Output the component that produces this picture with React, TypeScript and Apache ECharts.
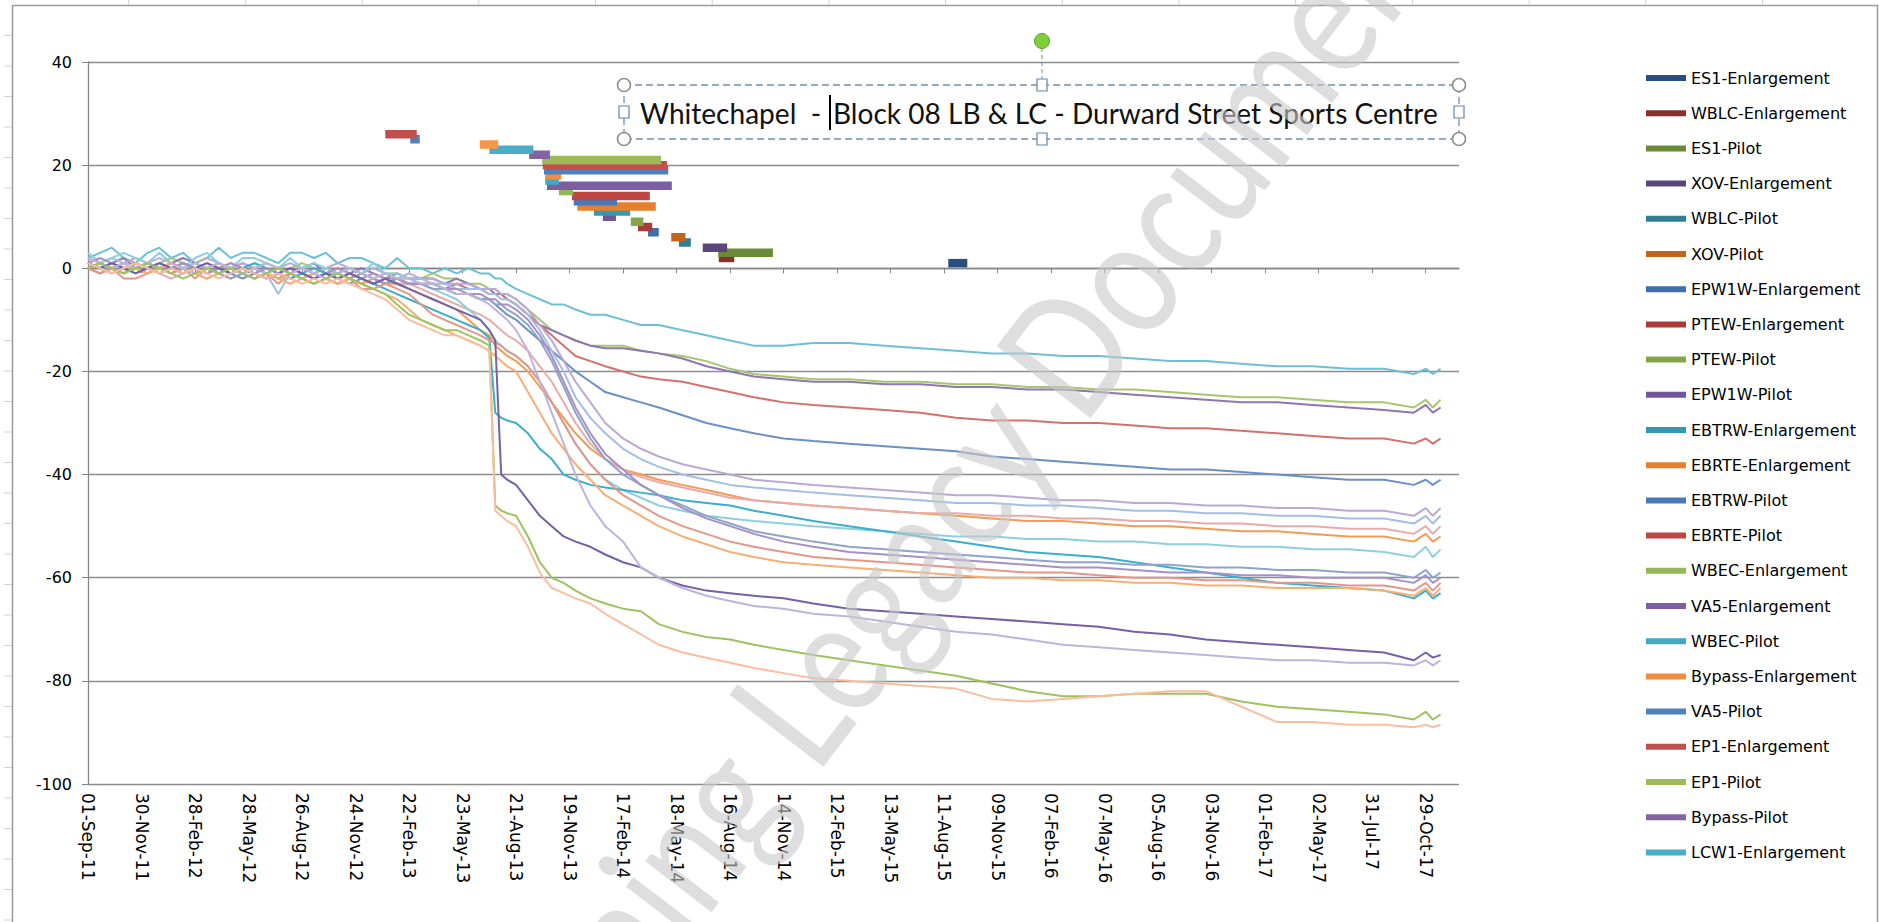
import React, { useEffect, useRef } from 'react';
import * as echarts from 'echarts';

// ---------- axis constants ----------
const AXIS_START = Date.UTC(2011, 8, 1);
const DAY_MS = 86400000;
const X_MAX_DAY = 2306;
const yMin = -100;
const yMax = 40;
const yStep = 20;

const xTickLabels = [
  '01-Sep-11', '30-Nov-11', '28-Feb-12', '28-May-12', '26-Aug-12', '24-Nov-12', '22-Feb-13',
  '23-May-13', '21-Aug-13', '19-Nov-13', '17-Feb-14', '18-May-14', '16-Aug-14', '14-Nov-14',
  '12-Feb-15', '13-May-15', '11-Aug-15', '09-Nov-15', '07-Feb-16', '07-May-16', '05-Aug-16',
  '03-Nov-16', '01-Feb-17', '02-May-17', '31-Jul-17', '29-Oct-17',
];

// ---------- works periods (thick bars) ----------
const barNames = [
  'ES1-Enlargement', 'WBLC-Enlargement', 'ES1-Pilot', 'XOV-Enlargement', 'WBLC-Pilot', 'XOV-Pilot',
  'EPW1W-Enlargement', 'PTEW-Enlargement', 'PTEW-Pilot', 'EPW1W-Pilot', 'EBTRW-Enlargement',
  'EBRTE-Enlargement', 'EBTRW-Pilot', 'EBRTE-Pilot', 'WBEC-Enlargement', 'VA5-Enlargement',
  'WBEC-Pilot', 'Bypass-Enlargement', 'VA5-Pilot', 'EP1-Enlargement', 'EP1-Pilot', 'Bypass-Pilot',
  'LCW1-Enlargement', 'Works-24', 'Works-25', 'Works-26',
];
const barColors = [
  '#264f80', '#8a2f2d', '#6a8a36', '#5a467a', '#2f7f90', '#c2641c',
  '#3e6eab', '#a93b39', '#85a648', '#6f5698', '#3498b0', '#e5802f',
  '#4a79ba', '#bd4643', '#93b656', '#7b5fa2', '#44a7c3', '#f08d3f',
  '#4f81bd', '#c0504d', '#9bbb59', '#8064a2', '#4bacc6', '#f79646',
  '#4f81bd', '#c0504d',
];
const barStarts = [
  '2015-08-18', '2014-07-28', '2014-07-27', '2014-07-01', '2014-05-22', '2014-05-09',
  '2014-03-31', '2014-03-14', '2014-03-02', '2014-01-14', '2013-12-30', '2013-12-02',
  '2013-11-26', '2013-11-23', '2013-11-01', '2013-10-12', '2013-10-09', '2013-10-09',
  '2013-10-07', '2013-10-05', '2013-10-04', '2013-09-12', '2013-07-07', '2013-06-21',
  '2013-02-24', '2013-01-13',
];
const barEnds = [
  '2015-09-19', '2014-08-23', '2014-10-27', '2014-08-11', '2014-06-11', '2014-06-02',
  '2014-04-18', '2014-04-07', '2014-03-23', '2014-02-05', '2014-03-01', '2014-04-13',
  '2014-02-07', '2014-04-03', '2013-11-25', '2014-05-10', '2013-11-01', '2013-11-05',
  '2014-05-04', '2014-05-02', '2014-04-22', '2013-10-17', '2013-09-19', '2013-07-22',
  '2013-03-12', '2013-03-07',
];
const barLevels = [1, 2, 3, 4, 5, 6, 7, 8, 9, 10, 11, 12, 13, 14, 15, 16, 17, 18, 19, 20, 21, 22, 23, 24, 25, 26];
const legendCount = 23;

// ---------- settlement monitoring (days since 01-Sep-11) ----------
const sampleDays = [
  0, 20, 40, 60, 80, 100, 120, 140, 160, 180, 200, 220, 240, 260, 280, 300, 320, 340, 360, 380,
  400, 420, 440, 460, 480, 500, 520, 540,
  560, 580, 600, 620, 640, 660, 675, 685, 695, 705, 720, 740, 760, 780, 800, 820, 845, 870, 900,
  930, 960, 1000, 1040, 1080, 1120, 1170, 1220, 1280, 1340, 1400, 1460, 1520, 1580, 1640, 1700,
  1760, 1820, 1880, 1940, 2000, 2060, 2120, 2180, 2230, 2250, 2262, 2275,
];

const sA = [2,3,4,2,1,3,4,2,3,1,2,4,2,3,3,2,1,3,3,2,3,1,2,2,1,0,2,0,
  0,-1,0,-1,0,-1,-1,-2,-2,-3,-4,-5,-6,-7,-7,-8,-9,-9,-10,-11,-11,-12,-13,-14,-15,-15,-14.5,-14.5,-15,-15.5,
  -16,-16.5,-16.5,-17,-17,-17.5,-18,-18,-18.5,-19,-19,-19.5,-19.5,-20.5,-19.5,-20.5,-19.5];
const sB = [0,1,0,-1,1,0,1,2,1,0,1,0,-1,0,1,0,-1,0,1,0,-1,-1,0,-1,-2,-1,-1,-2,
  -2,-1,-2,-2,-3,-3,-4,-4,-5,-5,-6,-8,-10,-12,-13,-14,-15,-15,-15,-16,-16.5,-17,-18,-19.5,-20.5,-21,-21.5,-21.5,-22,-22,
  -22.5,-22.5,-23,-23,-23.5,-23.5,-24,-24.5,-25,-25,-25.5,-26,-26,-27,-25.5,-27,-25.5];
const sC = [1,0,1,2,0,1,0,1,2,1,0,-1,0,1,0,1,0,-1,0,1,-1,0,-1,0,-1,-2,-1,-2,
  -2,-2,-3,-2,-3,-4,-4,-5,-5,-6,-7,-9,-11,-12,-13,-14,-15,-15.5,-15.5,-16,-16.5,-17.5,-19,-20,-21,-21.5,-22,-22,-22.5,-22.5,
  -23,-23,-23.5,-23.5,-24,-24.5,-25,-25.5,-26,-26,-26.5,-27,-27.5,-28,-26.5,-28,-27];
const sD = [0,-1,0,1,0,-1,0,1,0,-1,-2,-1,0,-1,0,-1,-2,-1,0,-1,-2,-1,-2,-1,-2,-3,-2,-3,
  -3,-3,-4,-3,-4,-4,-5,-5,-5,-6,-7,-9,-11,-13,-15,-17,-18,-19,-20,-21,-21.5,-22,-23,-24,-25,-26,-26.5,-27,-27.5,-28,
  -29,-29.5,-29.5,-30,-30,-30.5,-31,-31,-31.5,-32,-32.5,-33,-33,-34,-33,-34,-33];
const sE = [1,0,-1,0,1,0,-1,0,1,0,-1,0,-1,-2,-1,0,-1,-2,-1,-2,-1,-2,-3,-2,-3,-2,-3,-3,
  -3,-4,-4,-5,-5,-6,-6,-7,-8,-9,-10,-12,-14,-16,-18,-20,-22,-24,-25,-26,-27,-28.5,-30,-31,-32,-33,-33.5,-34,-34.5,-35,
  -35.5,-36.5,-37,-37.5,-38,-38.5,-39,-39,-39.5,-40,-40.5,-41,-41,-42,-41,-42,-41];
const sF = [0,-1,0,1,0,-1,0,-1,0,1,0,-1,-2,-1,0,-1,-2,-1,-2,-1,0,-1,-2,-3,-2,-3,-3,-4,
  -5,-6,-7,-8,-10,-12,-13,-15,-16,-17,-18,-20,-23,-26,-29,-32,-35,-37,-39,-40,-41,-42,-43,-44,-45,-45.5,-46,-46.5,-47,-47.5,
  -48,-48.5,-49,-49,-49.5,-50,-50,-50.5,-51,-51,-51.5,-52,-52,-53,-51.5,-53,-52];
const sG = [2,1,0,1,2,1,0,1,0,1,2,1,0,1,0,-1,0,1,0,-1,0,1,0,-1,0,-1,-2,-1,
  -2,-2,-3,-3,-3,-4,-4,-4,-5,-5,-6,-8,-11,-14,-18,-22,-26,-30,-33,-35,-36.5,-38,-39,-40,-41,-41.5,-42,-42.5,-43,-43.5,
  -44,-44,-44.5,-45,-45,-45.5,-45.5,-46,-46,-46.5,-46.5,-47,-47,-48,-46.5,-48,-46.5];
const sH = [0,1,2,1,0,1,0,-1,0,1,0,1,0,-1,0,-1,-5,-1,0,-1,0,-1,0,-1,-2,-1,-2,-2,
  -2,-3,-3,-4,-4,-4,-5,-5,-6,-6,-7,-9,-12,-16,-20,-25,-29,-32,-35,-37,-38.5,-40,-41,-42,-42.5,-43,-43.5,-44,-44.5,-45,
  -45.5,-45.5,-46,-46,-46.5,-47,-47,-47.5,-47.5,-48,-48,-48.5,-48.5,-49.5,-48,-49.5,-48];
const sI = [1,0,-1,0,1,0,-1,-2,-1,0,-1,0,1,0,-1,-2,-1,0,-1,-2,-1,-2,-1,-2,-3,-2,-3,-3,
  -4,-5,-6,-7,-8,-9,-10,-11,-12,-13,-14,-16,-19,-22,-26,-30,-34,-37,-39,-40.5,-41.5,-42.5,-43.5,-44.5,-45,-45.5,-46,-46.5,-47,-47.5,
  -47.5,-48,-48,-48.5,-48.5,-49,-49,-49.5,-49.5,-50,-50,-50.5,-50.5,-51.5,-50,-51.5,-50];
const sJ = [3,1,2,3,2,1,3,1,0,2,3,1,0,2,2,1,0,2,0,1,0,-1,0,-1,1,-1,-1,-2,
  -3,-4,-5,-6,-8,-10,-12,-14,-15,-16,-17,-19,-22,-26,-30,-34,-38,-41,-43,-44.5,-46,-47,-48,-48.5,-49,-49.5,-50,-50.5,-51,-51.5,
  -52,-52,-52.5,-52.5,-53,-53,-53.5,-53.5,-54,-54,-54.5,-54.5,-55,-56,-54,-56,-54.5];
const sK = [1,0,1,0,-1,0,1,0,1,0,-1,0,-1,0,1,0,-1,-2,-1,0,-1,-2,-1,-2,-3,-4,-5,-6,
  -7,-8,-9,-10,-11,-12,-13.5,-28,-29,-29.5,-30,-32,-35,-37,-40,-41,-42,-42.5,-43,-43.5,-44,-45,-45.5,-46,-47,-48,-49,-50,-51,-52,
  -53,-54,-55,-55.5,-56,-57,-58,-59,-60,-61,-61.5,-62,-62.5,-64,-62.5,-64,-63];
const sL = [0,1,0,-1,0,1,0,-1,0,-1,0,-1,-2,-1,-2,-1,0,-1,-2,-1,-2,-3,-2,-1,-2,-3,-2,-3,
  -3,-4,-4,-5,-5,-6,-6,-7,-7,-8,-9,-11,-14,-18,-23,-28,-33,-37,-40,-42,-44,-46,-48,-49.5,-51,-52,-53,-54,-54.5,-55,
  -55.5,-56,-56.5,-57,-57,-57.5,-57.5,-58,-58,-58.5,-58.5,-59,-59,-60,-58.5,-60,-59];
const sM = [1,2,1,0,1,0,-1,0,1,0,-1,0,1,0,-1,0,-1,0,-1,-2,-1,0,-1,-2,-1,-2,-2,-3,
  -3,-3,-4,-4,-5,-5,-6,-6,-7,-7,-8,-10,-13,-17,-22,-27,-32,-36,-39,-42,-44,-46.5,-48.5,-50,-51.5,-53,-54,-55,-55.5,-56,
  -56.5,-57,-57.5,-58,-58,-58.5,-59,-59,-59.5,-59.5,-60,-60,-60,-61,-59.5,-61,-60];
const sN = [0,-1,0,-2,-2,-1,0,-1,0,-2,0,1,0,-1,-2,-1,-3,-1,-2,-3,-2,-3,-2,-4,-4,-3,-4,-5,
  -7,-9,-10,-11,-12,-13,-14,-14.5,-15,-16,-17,-19,-22,-26,-30,-34,-38,-41,-44,-46,-48,-50,-51.5,-53,-54,-55,-56,-56.5,-57,-57.5,
  -58,-58.5,-59,-59,-59.5,-60,-60,-60.5,-60.5,-61,-61,-61.5,-61.5,-62.5,-61,-62.5,-61];
const sO = [0,1,0,-1,0,-1,0,1,0,-1,-2,-1,0,-1,-2,-1,-2,-3,-2,-1,-2,-3,-2,-3,-4,-5,-6,-8,
  -10,-11,-12,-13,-14,-15,-16,-17,-18,-19,-20,-24,-28,-32,-35,-38,-41,-44,-46,-48,-50,-52,-53.5,-55,-56,-57,-57.5,-58,-58.5,-59,
  -59.5,-60,-60,-60.5,-60.5,-61,-61,-61.5,-61.5,-62,-62,-62,-62.5,-63.5,-62,-63.5,-62];
const sP = [1,0,1,0,-1,0,1,0,-1,0,1,0,-1,0,-1,-2,-1,0,-1,-2,-1,-2,-1,-2,-3,-2,-3,-4,
  -5,-6,-7,-8,-9,-10,-12,-14,-40,-41,-42,-45,-48,-50,-52,-53,-54,-55.5,-57,-58,-60,-61.5,-62.5,-63,-63.5,-64,-65,-66,-66.5,-67,
  -67.5,-68,-68.5,-69,-69.5,-70.5,-71,-72,-72.5,-73,-73.5,-74,-74.5,-76,-74.5,-75.5,-75];
const sQ = [2,1,0,1,0,1,2,1,0,-1,0,1,0,-1,0,1,0,-1,0,-1,-2,-1,0,-1,-2,-1,-2,-2,
  -3,-3,-4,-5,-5,-6,-7,-8,-9,-10,-12,-16,-22,-28,-34,-40,-46,-50,-53,-58,-60,-62,-63.5,-64.5,-65.5,-66,-67,-67.5,-68.5,-69.5,
  -70.5,-71,-72,-73,-73.5,-74,-74.5,-75,-75.5,-76,-76,-76.5,-76.5,-77,-76,-77,-76];
const sR = [0,1,0,-1,0,1,0,-1,-2,-1,0,-1,0,-1,-2,-1,0,-1,-2,-3,-2,-1,-2,-3,-4,-5,-7,-9,
  -10,-11,-12,-12,-13,-14,-15,-46,-47,-47.5,-48,-52,-57,-60,-61,-62.5,-64,-65,-66,-66.5,-69,-70.5,-71.5,-72,-73,-74,-75,-76,-77,-78,
  -79,-80.5,-82,-83,-83,-82.5,-82.5,-82.5,-84,-85,-85.5,-86,-86.5,-87.5,-86,-87.5,-86.5];
const sS = [1,0,-1,0,1,0,-1,0,-1,0,-1,-2,-1,0,-1,-2,-1,-2,-3,-2,-3,-2,-3,-4,-5,-6,-8,-10,
  -11,-12,-13,-13,-14,-15,-16,-47,-48,-49,-50,-54,-59,-62,-63,-64,-65,-67,-69,-71,-73,-74.5,-75.5,-76.5,-77.5,-78.5,-79.5,-80,-80.5,-81,
  -81.5,-83.5,-84,-83.5,-83,-82.5,-82,-82,-85,-88,-88,-88.5,-88.5,-89,-88.5,-89,-88.5];

const settlementSeries = [sA, sB, sC, sD, sE, sF, sG, sH, sI, sJ, sK, sL, sM, sN, sO, sP, sQ, sR, sS];
const settlementColors = [
  '#6cc0d6', '#a6c66e', '#8f76b3', '#d4716d', '#6a90c8', '#f59a52', '#b9a9d3', '#a2bfe3', '#e8aaa8',
  '#8dcfe0', '#3aaecb', '#8ea4c8', '#a690c6', '#e59688', '#f8ae72', '#7560a6', '#bcb4dc', '#9cc35e', '#f9be9f',
];

// ---------- helpers ----------
const MONTHS = ['Jan', 'Feb', 'Mar', 'Apr', 'May', 'Jun', 'Jul', 'Aug', 'Sep', 'Oct', 'Nov', 'Dec'];
const isoToDay = (s: string) => {
  const [y, m, d] = s.split('-').map(Number);
  return Math.round((Date.UTC(y, m - 1, d) - AXIS_START) / DAY_MS);
};
const labelToDay = (s: string) => {
  const [d, mon, yy] = s.split('-');
  return Math.round((Date.UTC(2000 + Number(yy), MONTHS.indexOf(mon), Number(d)) - AXIS_START) / DAY_MS);
};
const tickDays = xTickLabels.map(labelToDay);
const tickLabelByDay: Record<number, string> = {};
tickDays.forEach((d, i) => { tickLabelByDay[d] = xTickLabels[i]; });

function fitFont(text: string, family: string, target: number) {
  const ctx = document.createElement('canvas').getContext('2d');
  if (!ctx) return 28;
  ctx.font = `100px ${family}`;
  const w = ctx.measureText(text).width;
  return (100 * target) / w;
}

export default function App() {
  const ref = useRef<HTMLDivElement>(null);
  useEffect(() => {
    if (!ref.current) return;
    const chart = echarts.init(ref.current, undefined, { renderer: 'svg' });

    const titleFamily = "Lato, 'Open Sans', sans-serif";
    const t1 = 'Whitechapel  -';
    const t2 = 'Block 08 LB & LC - Durward Street Sports Centre';
    const tSize = fitFont(t2, titleFamily, 605);

    const lineSeries = settlementSeries.map((vals, i) => ({
      type: 'line',
      name: 'settle' + i,
      data: sampleDays.map((d, k) => [d, vals[k]]),
      showSymbol: false,
      symbol: 'none',
      silent: true,
      z: 2,
      lineStyle: { width: 2, color: settlementColors[i] },
      itemStyle: { color: settlementColors[i] },
    }));
    const barSeries = barNames.map((n, i) => ({
      type: 'line',
      name: n,
      data: [[isoToDay(barStarts[i]), barLevels[i]], [isoToDay(barEnds[i]), barLevels[i]]],
      showSymbol: false,
      symbol: 'none',
      silent: true,
      z: 3,
      lineStyle: { width: 8.5, color: barColors[i], cap: 'butt' },
      itemStyle: { color: barColors[i] },
    }));

    const chrome: any[] = [];
    const grey = '#9b9b9b';
    chrome.push({ type: 'line', shape: { x1: 12.5, y1: 5, x2: 12.5, y2: 922 }, style: { stroke: grey, lineWidth: 1.5 } });
    chrome.push({ type: 'line', shape: { x1: 12, y1: 5.5, x2: 1878, y2: 5.5 }, style: { stroke: grey, lineWidth: 1.5 } });
    chrome.push({ type: 'line', shape: { x1: 1877.5, y1: 5, x2: 1877.5, y2: 922 }, style: { stroke: grey, lineWidth: 1.5 } });
    for (let x = 12 + 116.7; x < 1870; x += 116.7) {
      chrome.push({ type: 'line', shape: { x1: x, y1: 0, x2: x, y2: 5 }, style: { stroke: '#d0d0d0', lineWidth: 1 } });
    }
    for (let y = 5 + 30.5; y < 922; y += 30.5) {
      chrome.push({ type: 'line', shape: { x1: 4, y1: y, x2: 12, y2: y }, style: { stroke: '#d0d0d0', lineWidth: 1 } });
    }

    const bx1 = 624, bx2 = 1459, by1 = 85, by2 = 139, bmx = 1042, bmy = 112;
    const boxBlue = '#6f8fb5';
    const handles: any[] = [
      { type: 'rect', shape: { x: bx1, y: by1, width: bx2 - bx1, height: by2 - by1 }, style: { fill: 'none', stroke: boxBlue, lineWidth: 1.3, lineDash: [7, 4] } },
      { type: 'line', shape: { x1: bmx, y1: 48, x2: bmx, y2: by1 - 6 }, style: { stroke: boxBlue, lineWidth: 1, lineDash: [4, 3] } },
      { type: 'circle', shape: { cx: bmx, cy: 41, r: 7.5 }, style: { fill: '#7ed03a', stroke: '#5c9e2c', lineWidth: 1 } },
    ];
    [[bx1, by1], [bx2, by1], [bx1, by2], [bx2, by2]].forEach(([cx, cy]) => {
      handles.push({ type: 'circle', shape: { cx, cy, r: 6.5 }, style: { fill: '#ffffff', stroke: '#8c8c8c', lineWidth: 1.5 } });
    });
    [[bmx, by1], [bmx, by2], [bx1, bmy], [bx2, bmy]].forEach(([cx, cy]) => {
      handles.push({ type: 'rect', shape: { x: cx - 5, y: cy - 6, width: 10, height: 12 }, style: { fill: '#ffffff', stroke: '#5f84b0', lineWidth: 1.2 } });
    });
    handles.push({ type: 'text', x: 640, y: 113, style: { text: t1, font: `${tSize}px ${titleFamily}`, fill: '#111', textAlign: 'left', textVerticalAlign: 'middle' } });
    handles.push({ type: 'text', x: 833, y: 113, style: { text: t2, font: `${tSize}px ${titleFamily}`, fill: '#111', textAlign: 'left', textVerticalAlign: 'middle' } });
    handles.push({ type: 'rect', shape: { x: 829, y: 95, width: 2, height: 35 }, style: { fill: '#000' } });

    const watermark = {
      type: 'text',
      x: 924,
      y: 530,
      rotation: (52.5 * Math.PI) / 180,
      scaleX: 0.82,
      z: 100,
      silent: true,
      style: {
        text: 'Learning Legacy Document',
        font: `165px ${titleFamily}`,
        fill: 'rgba(200,200,200,0.6)',
        textAlign: 'center',
        textVerticalAlign: 'middle',
      },
    };

    const axisFont = "'DejaVu Sans', Verdana, sans-serif";
    chart.setOption({
      animation: false,
      backgroundColor: '#ffffff',
      grid: { left: 88, right: 420, top: 62, bottom: 138, containLabel: false },
      legend: {
        orient: 'vertical',
        left: 1641,
        top: 64,
        itemWidth: 40,
        itemHeight: 6,
        itemGap: 17.2,
        icon: 'rect',
        selectedMode: false,
        data: barNames.slice(0, legendCount),
        textStyle: { fontFamily: axisFont, fontSize: 16, color: '#000', lineHeight: 18 },
      },
      xAxis: [
        {
          type: 'value', min: 0, max: X_MAX_DAY, interval: 90,
          axisLine: { show: true, onZero: true, lineStyle: { color: '#868686', width: 1.3 } },
          axisTick: { show: true, length: 5, customValues: tickDays, lineStyle: { color: '#868686' } },
          axisLabel: { show: false },
          splitLine: { show: false },
        },
        {
          type: 'value', min: 0, max: X_MAX_DAY, interval: 90, position: 'bottom',
          axisLine: { show: false, onZero: false },
          axisTick: { show: false },
          splitLine: { show: false },
          axisLabel: {
            show: true, rotate: -90, margin: 9, customValues: tickDays,
            fontFamily: axisFont, fontSize: 17, color: '#000',
            formatter: (v: number) => tickLabelByDay[Math.round(v)] || '',
          },
        },
      ],
      yAxis: {
        type: 'value', min: yMin, max: yMax, interval: yStep,
        axisLine: { show: true, lineStyle: { color: '#868686', width: 1.3 } },
        axisTick: { show: true, length: 6, lineStyle: { color: '#868686' } },
        axisLabel: { margin: 16, fontFamily: axisFont, fontSize: 16, color: '#000' },
        splitLine: { show: true, lineStyle: { color: '#8c8c8c', width: 1.3 } },
      },
      series: [...lineSeries, ...barSeries],
      graphic: [...chrome, ...handles, watermark],
    });
    return () => chart.dispose();
  }, []);
  return <div ref={ref} style={{ position: 'fixed', left: 0, top: 0, width: 1879, height: 922, background: '#fff' }} />;
}
